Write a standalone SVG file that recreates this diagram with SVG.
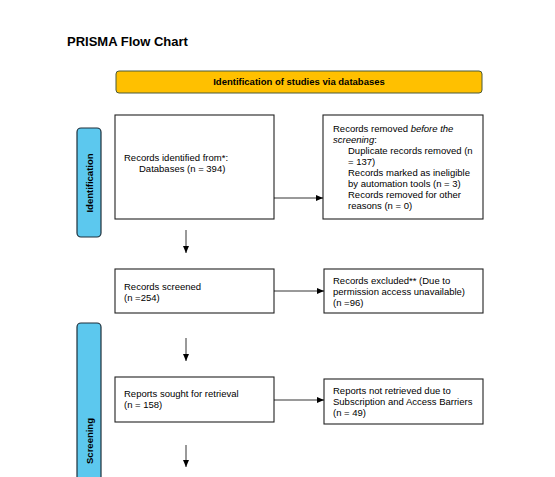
<svg xmlns="http://www.w3.org/2000/svg" width="555" height="477" viewBox="0 0 555 477">
<style>
text { font-family: "Liberation Sans", Arial, sans-serif; fill: #000; }
.title { font-size: 13px; font-weight: bold; }
.box { fill: #fff; stroke: #222; stroke-width: 1.1; }
.t { font-size: 9.5px; }
.side { fill: #5CC8EE; stroke: #1f2f3a; stroke-width: 1.2; }
.sidet { font-size: 9.5px; font-weight: bold; }
.conn { stroke: #000; stroke-width: 0.8; fill: none; marker-end: url(#ah); }
</style>
<defs>
<marker id="ah" markerWidth="8" markerHeight="8" refX="7" refY="4" orient="auto" markerUnits="userSpaceOnUse">
<path d="M0,1 L7,4 L0,7 Z" fill="#000"/>
</marker>
</defs>
<rect width="555" height="477" fill="#fff"/>
<text class="title" x="67" y="46">PRISMA Flow Chart</text>

<g id="banner">
<rect x="116" y="71" width="366" height="22" rx="3" fill="#FFC000" stroke="#4a5a3a" stroke-width="1"/>
<text class="sidet" x="299" y="85" text-anchor="middle">Identification of studies via databases</text>
</g>

<g id="side-identification">
<rect class="side" x="77" y="128" width="24" height="109" rx="4"/>
<text class="sidet" transform="translate(92.5,183) rotate(-90)" text-anchor="middle">Identification</text>
</g>

<g id="side-screening">
<rect class="side" x="77" y="323" width="24" height="170" rx="4"/>
<text class="sidet" transform="translate(92.5,441) rotate(-90)" text-anchor="middle">Screening</text>
</g>

<g id="n1">
<rect class="box" x="115" y="115" width="159" height="104"/>
<text class="t" x="124" y="161">Records identified from*:</text>
<text class="t" x="139" y="172">Databases (n = 394)</text>
</g>

<g id="n2">
<rect class="box" x="323" y="115" width="160" height="104"/>
<text class="t" x="333" y="132">Records removed <tspan font-style="italic">before the</tspan></text>
<text class="t" x="333" y="143"><tspan font-style="italic">screening</tspan>:</text>
<text class="t" x="348" y="154">Duplicate records removed (n</text>
<text class="t" x="348" y="165">= 137)</text>
<text class="t" x="348" y="176">Records marked as ineligible</text>
<text class="t" x="348" y="187">by automation tools (n = 3)</text>
<text class="t" x="348" y="198">Records removed for other</text>
<text class="t" x="348" y="209">reasons (n = 0)</text>
</g>

<g id="n3">
<rect class="box" x="115" y="269" width="159" height="44"/>
<text class="t" x="124" y="290">Records screened</text>
<text class="t" x="124" y="301">(n =254)</text>
</g>

<g id="n4">
<rect class="box" x="324" y="269" width="159" height="44"/>
<text class="t" x="333" y="284">Records excluded** (Due to</text>
<text class="t" x="333" y="295">permission access unavailable)</text>
<text class="t" x="333" y="306">(n =96)</text>
</g>

<g id="n5">
<rect class="box" x="115" y="377" width="159" height="45"/>
<text class="t" x="124" y="397">Reports sought for retrieval</text>
<text class="t" x="124" y="408">(n = 158)</text>
</g>

<g id="n6">
<rect class="box" x="324" y="379" width="159" height="45"/>
<text class="t" x="333" y="394">Reports not retrieved due to</text>
<text class="t" x="333" y="405">Subscription and Access Barriers</text>
<text class="t" x="333" y="416">(n = 49)</text>
</g>

<g id="connectors">
<line class="conn" x1="274" y1="198" x2="323" y2="198"/>
<line class="conn" x1="186" y1="230" x2="186" y2="253"/>
<line class="conn" x1="274" y1="291" x2="324" y2="291"/>
<line class="conn" x1="186" y1="338" x2="186" y2="361"/>
<line class="conn" x1="274" y1="400" x2="324" y2="400"/>
<line class="conn" x1="186" y1="445" x2="186" y2="467"/>
</g>
</svg>
